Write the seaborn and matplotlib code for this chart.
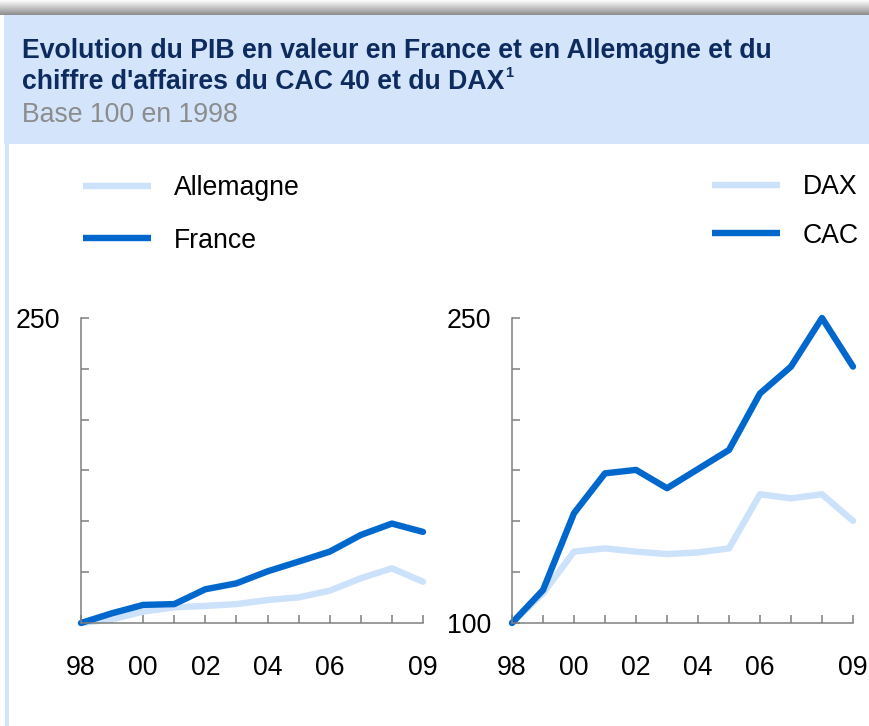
import numpy as np
import pandas as pd
import matplotlib
matplotlib.use("Agg")
import matplotlib.pyplot as plt
from matplotlib.patches import Rectangle
import seaborn as sns

# ---------------- data ----------------
years = list(range(1998, 2010))
allemagne = [100, 101.8, 105.6, 107.7, 108.4, 109.3, 111.3, 112.6, 115.9, 122.0, 126.9, 120.3]
france = [100, 104.8, 108.9, 109.3, 116.6, 119.5, 125.4, 130.2, 135.1, 143.3, 148.9, 144.8]
dax = [100, 114.6, 135.1, 136.7, 135.1, 133.9, 134.7, 136.7, 163.3, 161.3, 163.3, 150.2]
cac = [100, 116.2, 154.0, 173.6, 175.3, 166.3, 175.7, 185.1, 212.9, 226.1, 250.0, 226.1]
xtick_labels = {1998: "98", 2000: "00", 2002: "02", 2004: "04", 2006: "06", 2009: "09"}
title_lines = ["Evolution du PIB en valeur en France et en Allemagne et du",
               "chiffre d'affaires du CAC 40 et du DAX"]
subtitle = "Base 100 en 1998"

LIGHT = "#cce1fa"
DARK = "#0068cc"
NAVY = "#0d2b5e"
GREY = "#7f7f7f"

sns.set_style("white")
plt.rcParams["font.family"] = ["Liberation Sans", "DejaVu Sans"]

W, H = 870, 726
fig = plt.figure(figsize=(W / 100, H / 100), dpi=100)


def fx(x):
    return x / W


def fy(y):
    return 1 - y / H


# ---------------- background decoration ----------------
grad_ax = fig.add_axes([0, fy(15), 1, 15 / H])
grad = np.linspace(1, 0, 64).reshape(-1, 1)
grad_ax.imshow(grad, aspect="auto", cmap=matplotlib.colors.LinearSegmentedColormap.from_list(
    "g", ["#8c8c8c", "#ffffff"]), extent=[0, 1, 0, 1])
grad_ax.axis("off")

fig.patches.append(Rectangle((fx(4), fy(144)), 1, (144 - 15) / H, transform=fig.transFigure,
                             facecolor="#d3e4fb", edgecolor="none", zorder=0))
fig.patches.append(Rectangle((fx(5), 0), 4 / W, fy(144), transform=fig.transFigure,
                             facecolor="#d3e4fb", edgecolor="none", zorder=0))

# ---------------- header text ----------------
t1 = fig.text(fx(22), fy(58), title_lines[0], fontsize=17.5, fontweight="bold", color=NAVY,
              va="baseline", ha="left")
t2 = fig.text(fx(22), fy(89), title_lines[1], fontsize=17.5, fontweight="bold", color=NAVY,
              va="baseline", ha="left")
# fit title width to reference (~753 px)
fig.canvas.draw()
r = fig.canvas.get_renderer()
wpx = t1.get_window_extent(r).width
fs = 17.5 * 753 / wpx
t1.set_fontsize(fs)
t2.set_fontsize(fs)
fig.canvas.draw()
e2 = t2.get_window_extent(r)
fig.text(e2.x1 / W + 1 / W, fy(77), "1", fontsize=fs * 0.55, fontweight="bold", color=NAVY,
         va="baseline", ha="left")
fig.text(fx(22), fy(122), subtitle, fontsize=19.2, color="#8c8c8c", va="baseline", ha="left")

# ---------------- charts ----------------
df_left = pd.DataFrame({
    "year": years * 2,
    "value": allemagne + france,
    "serie": ["Allemagne"] * len(years) + ["France"] * len(years),
})
df_right = pd.DataFrame({
    "year": years * 2,
    "value": dax + cac,
    "serie": ["DAX"] * len(years) + ["CAC"] * len(years),
})

ax_l = fig.add_axes([fx(81), fy(623), 342 / W, 305 / H])
ax_r = fig.add_axes([fx(512), fy(623), 341 / W, 305 / H])

FS = 19.2
specs = [
    (ax_l, df_left, ["Allemagne", "France"], {250: "250"}),
    (ax_r, df_right, ["DAX", "CAC"], {250: "250", 100: "100"}),
]
for ax, df, order, ylabels in specs:
    sns.lineplot(data=df, x="year", y="value", hue="serie", hue_order=order,
                 palette=[LIGHT, DARK], linewidth=4.6, ax=ax, clip_on=False,
                 legend=True)
    ax.set_xlim(1998, 2009)
    ax.set_ylim(100, 250)
    ax.set_xlabel("")
    ax.set_ylabel("")
    ax.set_facecolor("none")
    ax.set_xticks(years)
    ax.set_xticklabels([xtick_labels.get(y, "") for y in years])
    yt = list(range(100, 251, 25))
    ax.set_yticks(yt)
    ax.set_yticklabels([ylabels.get(v, "") for v in yt])
    ax.tick_params(axis="both", direction="in", length=6, width=1.1, color=GREY,
                   labelsize=FS, labelcolor="black", bottom=True, left=True)
    ax.tick_params(axis="x", pad=23)
    ax.tick_params(axis="y", pad=15)
    for s in ["top", "right"]:
        ax.spines[s].set_visible(False)
    for s in ["left", "bottom"]:
        ax.spines[s].set_color(GREY)
        ax.spines[s].set_linewidth(1.1)
    ax.grid(False)


def place_legend(ax, x, y, spacing):
    h, l = ax.get_legend_handles_labels()
    leg = ax.legend(h, l, loc="upper left", bbox_to_anchor=(fx(x), fy(y)),
                    bbox_transform=fig.transFigure, frameon=False, fontsize=FS,
                    handlelength=2.55, handletextpad=0.85, labelspacing=spacing, borderpad=0,
                    borderaxespad=0)
    for line in leg.get_lines():
        line.set_solid_capstyle("butt")
        line.set_linewidth(4.6)
    for t in leg.get_texts():
        t.set_color("black")
    return leg


place_legend(ax_l, 83, 175, 1.0)
place_legend(ax_r, 712, 174, 0.85)

fig.savefig("out.png", dpi=100)
